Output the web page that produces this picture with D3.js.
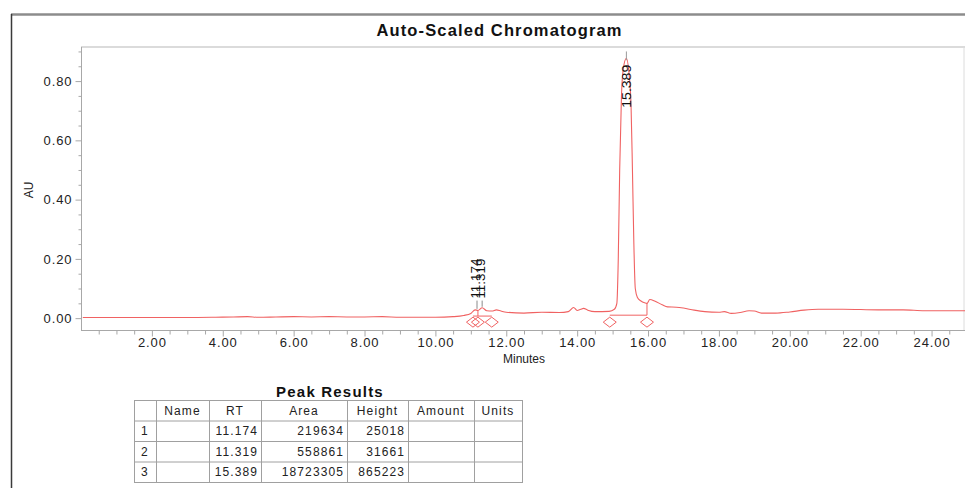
<!DOCTYPE html>
<html>
<head>
<meta charset="utf-8">
<script src="https://cdn.jsdelivr.net/npm/d3@7"></script>
<style>
  html, body { margin: 0; padding: 0; background: #fff; }
  svg { display: block; font-family: "Liberation Sans", Arial, sans-serif; }
</style>
</head>
<body>
<svg id="chart" width="965" height="488"></svg>
<script>
// ---- data ----
const times = [0.05, 1.0, 2.0, 3.0, 3.8, 4.3, 4.7, 5.0, 5.5, 6.0, 6.5, 7.0, 7.5, 8.0, 8.5, 9.0, 9.5, 10.0,
  10.5, 10.8, 11.0, 11.12, 11.2, 11.32, 11.45, 11.6, 11.72, 11.85, 12.0, 12.5, 13.0, 13.5, 13.75, 13.9,
  14.0, 14.1, 14.18, 14.3, 14.5, 14.9, 15.05, 15.12, 15.16, 15.2, 15.25, 15.3, 15.389, 15.46, 15.52,
  15.56, 15.6, 15.64, 15.7, 15.8, 15.9, 15.97, 16.05, 16.2, 16.4, 16.55, 16.8, 17.0, 17.3, 17.6, 18.0,
  18.15, 18.35, 18.6, 18.85, 19.0, 19.2, 19.6, 20.0, 20.4, 20.8, 21.5, 22.5, 23.2, 23.8, 25.0];
const absorbance = [0.002, 0.002, 0.002, 0.002, 0.003, 0.004, 0.005, 0.003, 0.004, 0.005, 0.004, 0.005, 0.004, 0.004, 0.005, 0.003, 0.003, 0.003,
  0.005, 0.009, 0.016, 0.028, 0.026, 0.035, 0.025, 0.024, 0.028, 0.024, 0.020, 0.017, 0.020, 0.019, 0.022, 0.036,
  0.026, 0.030, 0.033, 0.027, 0.022, 0.023, 0.030, 0.050, 0.200, 0.500, 0.750, 0.840, 0.877, 0.830, 0.720,
  0.500, 0.250, 0.100, 0.070, 0.058, 0.052, 0.050, 0.063, 0.057, 0.045, 0.038, 0.037, 0.034, 0.027, 0.022, 0.020,
  0.022, 0.016, 0.019, 0.025, 0.024, 0.017, 0.017, 0.021, 0.027, 0.030, 0.030, 0.028, 0.028, 0.025, 0.025];

const peakRT = [11.174, 11.319, 15.389];
const peakLabels = ["11.174", "11.319", "15.389"];
const peakApex = [0.028, 0.035, 0.877];
const markerTimes = [11.06, 11.2, 11.59, 14.92, 15.97];
const baselineSegments = [[11.06, 11.59], [14.92, 15.97]];
const baselineLevel = [0.007, 0.010];

const yMajorTicks = [0, 0.2, 0.4, 0.6, 0.8];
const yTickLabels = ["0.00", "0.20", "0.40", "0.60", "0.80"];
const xMajorTicks = [2, 4, 6, 8, 10, 12, 14, 16, 18, 20, 22, 24];
const xTickLabels = ["2.00", "4.00", "6.00", "8.00", "10.00", "12.00", "14.00", "16.00", "18.00", "20.00", "22.00", "24.00"];

const tableHeaders = ["", "Name", "RT", "Area", "Height", "Amount", "Units"];
const tableRows = [
  ["1", "", "11.174", "219634", "25018", "", ""],
  ["2", "", "11.319", "558861", "31661", "", ""],
  ["3", "", "15.389", "18723305", "865223", "", ""]
];

// ---- drawing ----
const svg = d3.select("#chart");
const traceColor = "#f06262";
const axisColor = "#a8a8a8";

const x = d3.scaleLinear().domain([0, 25]).range([81, 967]);
const y = d3.scaleLinear().domain([-0.04, 0.915]).range([330, 47]);

// outer frame
svg.append("line").attr("x1", 11).attr("x2", 965).attr("y1", 14.5).attr("y2", 14.5)
  .attr("stroke", "#8c8c8c").attr("stroke-width", 2.5);
svg.append("line").attr("x1", 11.5).attr("x2", 11.5).attr("y1", 14).attr("y2", 488)
  .attr("stroke", "#3a3a3a").attr("stroke-width", 1.5);

// title
svg.append("text").attr("x", 499).attr("y", 36).attr("text-anchor", "middle")
  .attr("font-size", 16.5).attr("font-weight", "bold").attr("fill", "#111")
  .attr("textLength", 245).attr("lengthAdjust", "spacing")
  .text("Auto-Scaled Chromatogram");

// plot frame
svg.append("line").attr("x1", x(0)).attr("x2", 965).attr("y1", y(0.915)).attr("y2", y(0.915))
  .attr("stroke", "#cfcfcf").attr("stroke-width", 1.5);
svg.append("line").attr("x1", 964).attr("x2", 964).attr("y1", y(0.915)).attr("y2", y(-0.04))
  .attr("stroke", "#dcdcdc").attr("stroke-width", 1);

// y axis
const yMinor = d3.range(1, 19).map(i => i * 0.05).filter(v => yMajorTicks.every(m => Math.abs(m - v) > 1e-6));
const yAxisMajor = d3.axisLeft(y).tickValues(yMajorTicks).tickSize(6).tickPadding(3)
  .tickFormat((d, i) => yTickLabels[i]);
const gy = svg.append("g").attr("transform", `translate(${x(0) + 0.5},0)`).call(yAxisMajor);
gy.select(".domain").attr("stroke", axisColor).attr("d", `M0,${y(0.915)}V${y(-0.04)}`);
gy.selectAll(".tick line").attr("stroke", axisColor);
gy.selectAll(".tick text").attr("font-size", 13).attr("fill", "#222")
  .attr("font-family", "'Liberation Sans', Arial, sans-serif").attr("letter-spacing", "0.9px");
const gyMinor = svg.append("g").attr("transform", `translate(${x(0) + 0.5},0)`)
  .call(d3.axisLeft(y).tickValues(yMinor).tickSize(3).tickFormat(""));
gyMinor.select(".domain").remove();
gyMinor.selectAll(".tick line").attr("stroke", axisColor);

// x axis
const xMinor = d3.range(1, 50).map(i => i * 0.5).filter(v => xMajorTicks.indexOf(v) < 0);
const gx = svg.append("g").attr("transform", `translate(0,${y(-0.04) + 0.5})`)
  .call(d3.axisBottom(x).tickValues(xMajorTicks).tickSize(6).tickPadding(1)
    .tickFormat((d, i) => xTickLabels[i]));
gx.select(".domain").attr("stroke", axisColor).attr("d", `M${x(0)},0H965`);
gx.selectAll(".tick line").attr("stroke", axisColor);
gx.selectAll(".tick text").attr("font-size", 13).attr("fill", "#222")
  .attr("font-family", "'Liberation Sans', Arial, sans-serif").attr("letter-spacing", "0.9px");
const gxMinor = svg.append("g").attr("transform", `translate(0,${y(-0.04) + 0.5})`)
  .call(d3.axisBottom(x).tickValues(xMinor).tickSize(4).tickFormat(""));
gxMinor.select(".domain").remove();
gxMinor.selectAll(".tick line").attr("stroke", axisColor);

// axis titles
svg.append("text").attr("x", 524).attr("y", 363).attr("text-anchor", "middle")
  .attr("font-size", 12).attr("fill", "#222").text("Minutes");
svg.append("text").attr("transform", `translate(33,190) rotate(-90)`).attr("text-anchor", "middle")
  .attr("font-size", 12).attr("fill", "#222").text("AU");

// trace
const traceData = times.map((t, i) => [t, absorbance[i]]);
const lineGen = d3.line().x(d => x(d[0])).y(d => y(d[1])).curve(d3.curveMonotoneX);
svg.append("path").datum(traceData).attr("d", lineGen)
  .attr("fill", "none").attr("stroke", traceColor).attr("stroke-width", 1.1);

// baselines
baselineSegments.forEach((seg, i) => {
  svg.append("line").attr("x1", x(seg[0])).attr("x2", x(seg[1]))
    .attr("y1", y(baselineLevel[i])).attr("y2", y(baselineLevel[i]))
    .attr("stroke", traceColor).attr("stroke-width", 1);
});
const interp = t => {
  for (let i = 1; i < times.length; i++) {
    if (times[i] >= t) {
      const f = (t - times[i - 1]) / (times[i] - times[i - 1]);
      return absorbance[i - 1] + f * (absorbance[i] - absorbance[i - 1]);
    }
  }
  return absorbance[absorbance.length - 1];
};
[[markerTimes[1], 0], [markerTimes[4], 1]].forEach(([t, k]) => {
  svg.append("line").attr("x1", x(t)).attr("x2", x(t))
    .attr("y1", y(baselineLevel[k])).attr("y2", y(interp(t)))
    .attr("stroke", traceColor).attr("stroke-width", 1);
});

// diamond markers
svg.selectAll("path.marker").data(markerTimes).join("path").attr("class", "marker")
  .attr("d", t => {
    const cx = x(t), cy = y(0) + 4;
    return `M${cx - 6.5},${cy}L${cx},${cy - 5}L${cx + 6.5},${cy}L${cx},${cy + 5}Z`;
  })
  .attr("fill", "none").attr("stroke", traceColor).attr("stroke-width", 1);

// peak labels
const labelBottom = [y(0.066), y(0.066), y(0.71)];
peakRT.forEach((rt, i) => {
  const px = x(rt);
  if (i < 2) {
    svg.append("line").attr("x1", px).attr("x2", px)
      .attr("y1", labelBottom[i] + 2).attr("y2", y(peakApex[i]) - 1)
      .attr("stroke", "#8a8a8a").attr("stroke-width", 1);
  } else {
    svg.append("line").attr("x1", px).attr("x2", px)
      .attr("y1", y(0.9)).attr("y2", y(peakApex[i]) + 2)
      .attr("stroke", "#9a9a9a").attr("stroke-width", 1);
  }
  svg.append("text")
    .attr("transform", `translate(${px + (i < 2 ? 2.5 : 4.5)},${labelBottom[i]}) rotate(-90)`)
    .attr("font-size", i < 2 ? 12.5 : 13.5).attr("fill", "#111")
    .attr("textLength", i < 2 ? 40 : 43).attr("lengthAdjust", "spacingAndGlyphs")
    .text(peakLabels[i]);
});

// ---- Peak Results table ----
svg.append("text").attr("x", 330).attr("y", 397).attr("text-anchor", "middle")
  .attr("font-size", 15).attr("font-weight", "bold").attr("fill", "#111")
  .attr("letter-spacing", "1.2px").text("Peak Results");

const colEdges = [134, 156, 209, 261, 347, 408, 474, 522];
const rowEdges = [400, 420.5, 441, 461.5, 482];
const colAlign = ["middle", "middle", "end", "end", "end", "end", "end"];
const tg = svg.append("g");
tg.selectAll("line.v").data(colEdges).join("line").attr("class", "v")
  .attr("x1", d => d + 0.5).attr("x2", d => d + 0.5).attr("y1", rowEdges[0]).attr("y2", rowEdges[4])
  .attr("stroke", "#a0a0a0").attr("stroke-width", 1);
tg.selectAll("line.h").data(rowEdges).join("line").attr("class", "h")
  .attr("x1", colEdges[0]).attr("x2", colEdges[7] + 1).attr("y1", d => d + 0.5).attr("y2", d => d + 0.5)
  .attr("stroke", "#a0a0a0").attr("stroke-width", 1);

const allRows = [tableHeaders].concat(tableRows);
allRows.forEach((row, r) => {
  row.forEach((cell, c) => {
    if (!cell) return;
    const header = r === 0;
    const anchor = header ? "middle" : colAlign[c];
    const tx = anchor === "middle" ? (colEdges[c] + colEdges[c + 1]) / 2 : colEdges[c + 1] - 3;
    tg.append("text").attr("x", tx).attr("y", (rowEdges[r] + rowEdges[r + 1]) / 2 + 4.5)
      .attr("text-anchor", anchor).attr("font-size", 12).attr("fill", "#222")
      .attr("letter-spacing", "1.1px").text(cell);
  });
});
</script>
</body>
</html>
